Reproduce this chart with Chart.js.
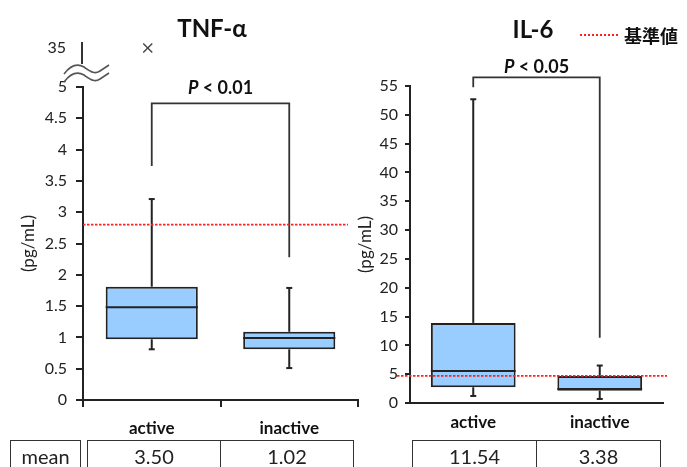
<!DOCTYPE html>
<html>
<head>
<meta charset="utf-8">
<script src="https://cdn.jsdelivr.net/npm/chart.js"></script>
<style>
  body { margin: 0; width: 687px; height: 467px; overflow: hidden; background: #fff; position: relative; font-family: Lato, "Noto Sans", sans-serif; color: #222; }
  canvas { position: absolute; top: 0; }
  #tnfChart { left: 0; }
  #il6Chart { left: 350px; }
  .title { position: absolute; font: bold 24px Lato, sans-serif; color: #111; transform: translate(-50%, -50%); white-space: nowrap; }
  .legend { position: absolute; left: 580px; top: 26px; height: 18px; display: flex; align-items: center; }
  .legend span.dash { display: inline-block; width: 38px; border-top: 2px dotted #ff2020; margin-right: 6px; }
  .legend span.txt { font: bold 18px "Noto Sans CJK JP", sans-serif; color: #111; }
  .cell { position: absolute; top: 440px; height: 40px; box-sizing: border-box; border: 1.5px solid #333; text-align: center; font: 20px Lato, sans-serif; line-height: 31px; color: #222; }
</style>
</head>
<body>
<canvas id="tnfChart" width="365" height="445"></canvas>
<canvas id="il6Chart" width="337" height="445"></canvas>
<div class="title" style="left:212px;top:27px">TNF-α</div>
<div class="title" style="left:533px;top:28px">IL-6</div>
<div class="legend"><span class="dash"></span><span class="txt">基準値</span></div>
<div id="tables"></div>
<script>
// groups
const groups = ["active", "inactive"];

// TNF-α (pg/mL)
const tnfBox = [[0.97, 1.81], [0.81, 1.09]];      // Q1, Q3
const tnfMedian = [1.48, 0.99];
const tnfWhiskers = [[0.81, 3.21], [0.51, 1.79]]; // min, max
const tnfOutlier = 35;                           // active, above the axis break
const tnfRef = 2.80;
const tnfBracket = [4.74, 3.74, 2.28];           // top, left leg end, right leg end
const tnfMean = ["3.50", "1.02"];

// IL-6 (pg/mL)
const il6Box = [[2.73, 13.9], [2.14, 4.7]];
const il6Median = [5.57, 2.44];
const il6Whiskers = [[1.22, 52.7], [0.7, 6.5]];
const il6Ref = 4.7;
const il6Bracket = [56.5, 54.8, 11.3];
const il6Mean = ["11.54", "3.38"];

function seg(ctx, x1, y1, x2, y2) {
  ctx.beginPath();
  ctx.moveTo(x1, y1);
  ctx.lineTo(x2, y2);
  ctx.stroke();
}

const boxPlot = {
  id: 'boxPlot',
  afterDatasetsDraw(chart, args, o) {
    const ctx = chart.ctx;
    const y = chart.scales.y;
    const area = chart.chartArea;
    const bars = chart.getDatasetMeta(0).data;
    ctx.save();
    ctx.strokeStyle = '#222';
    ctx.lineWidth = 2;
    bars.forEach((bar, i) => {
      const half = bar.width / 2;
      const my = y.getPixelForValue(o.median[i]);
      seg(ctx, bar.x - half, my, bar.x + half, my);
      const [q1, q3] = o.box[i];
      const [lo, hi] = o.whiskers[i];
      seg(ctx, bar.x, y.getPixelForValue(q3), bar.x, y.getPixelForValue(hi));
      seg(ctx, bar.x, y.getPixelForValue(q1), bar.x, y.getPixelForValue(lo));
      seg(ctx, bar.x - 3, y.getPixelForValue(hi), bar.x + 3, y.getPixelForValue(hi));
      seg(ctx, bar.x - 3, y.getPixelForValue(lo), bar.x + 3, y.getPixelForValue(lo));
    });

    // significance bracket
    const [top, legL, legR] = o.bracket;
    const xl = bars[0].x, xr = bars[1].x;
    const ty = y.getPixelForValue(top);
    ctx.strokeStyle = '#333';
    ctx.lineWidth = 1.8;
    ctx.beginPath();
    ctx.moveTo(xl, y.getPixelForValue(legL));
    ctx.lineTo(xl, ty);
    ctx.lineTo(xr, ty);
    ctx.lineTo(xr, y.getPixelForValue(legR));
    ctx.stroke();

    // P label
    ctx.fillStyle = '#111';
    ctx.textBaseline = 'middle';
    ctx.textAlign = 'left';
    const fIt = 'italic bold 18px Lato';
    const fB = 'bold 18px Lato';
    ctx.font = fIt;
    const w1 = ctx.measureText('P').width;
    ctx.font = fB;
    const w2 = ctx.measureText(' < ' + o.pValue).width;
    const px = (xl + xr) / 2 - (w1 + w2) / 2;
    const py = ty - o.pGap;
    ctx.font = fIt;
    ctx.fillText('P', px, py);
    ctx.font = fB;
    ctx.fillText(' < ' + o.pValue, px + w1, py);

    // reference line
    const ry = y.getPixelForValue(o.ref);
    ctx.strokeStyle = '#ff2020';
    ctx.lineWidth = 1.8;
    ctx.setLineDash([2.5, 1.5]);
    seg(ctx, area.left + o.refExtend[0], ry, area.right + o.refExtend[1], ry);
    ctx.setLineDash([]);

    // broken axis with outlier
    if (o.outlier != null) {
      const ox = area.left - 1, oy = area.top;
      ctx.strokeStyle = '#333';
      ctx.lineWidth = 2;
      seg(ctx, ox, oy - 45, ox, oy - 23);
      ctx.strokeStyle = '#555';
      ctx.lineWidth = 1.6;
      for (const dy of [0, 8]) {
        ctx.beginPath();
        ctx.moveTo(ox - 18, oy - 13 + dy);
        ctx.bezierCurveTo(ox - 12, oy - 21 + dy, ox - 5, oy - 24 + dy, ox + 2, oy - 20 + dy);
        ctx.bezierCurveTo(ox + 8, oy - 16 + dy, ox + 12, oy - 12 + dy, ox + 18, oy - 16 + dy);
        ctx.lineTo(ox + 27, oy - 22 + dy);
        ctx.stroke();
      }
      ctx.fillStyle = '#222';
      ctx.font = '16px Lato';
      ctx.textAlign = 'right';
      ctx.fillText(String(o.outlier), ox - 16, oy - 39);
      const cx = bars[0].x - 4, cy = oy - 39;
      ctx.strokeStyle = '#444';
      ctx.lineWidth = 1.4;
      seg(ctx, cx - 4.5, cy - 4.5, cx + 4.5, cy + 4.5);
      seg(ctx, cx - 4.5, cy + 4.5, cx + 4.5, cy - 4.5);
    }
    ctx.restore();
  }
};

function makeChart(id, cfg) {
  return new Chart(document.getElementById(id), {
    type: 'bar',
    data: {
      labels: groups,
      datasets: [{
        data: cfg.box,
        backgroundColor: '#99ccff',
        borderColor: '#222',
        borderWidth: 2,
        borderSkipped: false,
        barPercentage: 0.67,
        categoryPercentage: 1
      }]
    },
    options: {
      responsive: false,
      animation: false,
      layout: { padding: { top: cfg.top, right: cfg.right, left: 0, bottom: 0 } },
      plugins: {
        legend: { display: false },
        tooltip: { enabled: false },
        boxPlot: {
          box: cfg.box, median: cfg.median, whiskers: cfg.whiskers,
          bracket: cfg.bracket, pValue: cfg.pValue, pGap: cfg.pGap,
          ref: cfg.ref, refExtend: cfg.refExtend, outlier: cfg.outlier
        }
      },
      scales: {
        x: {
          grid: { drawOnChartArea: false, drawTicks: cfg.xTicks, tickLength: 7, color: '#222', lineWidth: 2 },
          border: { color: '#222', width: 2 },
          ticks: { color: '#111', font: { family: 'Lato', size: 17, weight: 'bold' }, padding: cfg.xPad },
          afterFit(s) { s.height = cfg.xHeight; }
        },
        y: {
          min: 0,
          max: cfg.max,
          ticks: { stepSize: cfg.step, color: '#222', font: { family: 'Lato', size: 16 }, padding: cfg.yPad, callback: v => String(v) },
          grid: { drawOnChartArea: false, drawTicks: true, tickLength: cfg.yTick, color: '#222', lineWidth: 2 },
          border: { color: '#222', width: 2 },
          title: { display: true, text: '(pg/mL)', color: '#222', font: { family: 'Lato', size: 17 }, padding: { top: cfg.titlePad, bottom: 0 } },
          afterFit(s) { s.width = cfg.yWidth; }
        }
      }
    },
    plugins: [boxPlot]
  });
}

makeChart('tnfChart', {
  box: tnfBox, median: tnfMedian, whiskers: tnfWhiskers, bracket: tnfBracket,
  pValue: '0.01', pGap: 15, ref: tnfRef, refExtend: [0, -10], outlier: tnfOutlier,
  max: 5, step: 0.5, top: 87, right: 7, yWidth: 83, yPad: 9, yTick: 7, titlePad: 18,
  xHeight: 45, xPad: 11, xTicks: true
});

makeChart('il6Chart', {
  box: il6Box, median: il6Median, whiskers: il6Whiskers, bracket: il6Bracket,
  pValue: '0.05', pGap: 10, ref: il6Ref, refExtend: [-13, 4], outlier: null,
  max: 55, step: 5, top: 86, right: 24, yWidth: 60, yPad: 7, yTick: 5, titlePad: 5,
  xHeight: 42, xPad: 9, xTicks: false
});

// mean tables
const tables = document.getElementById('tables');
function cell(left, width, text) {
  const d = document.createElement('div');
  d.className = 'cell';
  d.style.left = left + 'px';
  d.style.width = width + 'px';
  d.textContent = text;
  tables.appendChild(d);
}
cell(10, 71, 'mean');
cell(87, 134, tnfMean[0]);
cell(220, 134, tnfMean[1]);
cell(412, 125, il6Mean[0]);
cell(536, 125, il6Mean[1]);
</script>
</body>
</html>
